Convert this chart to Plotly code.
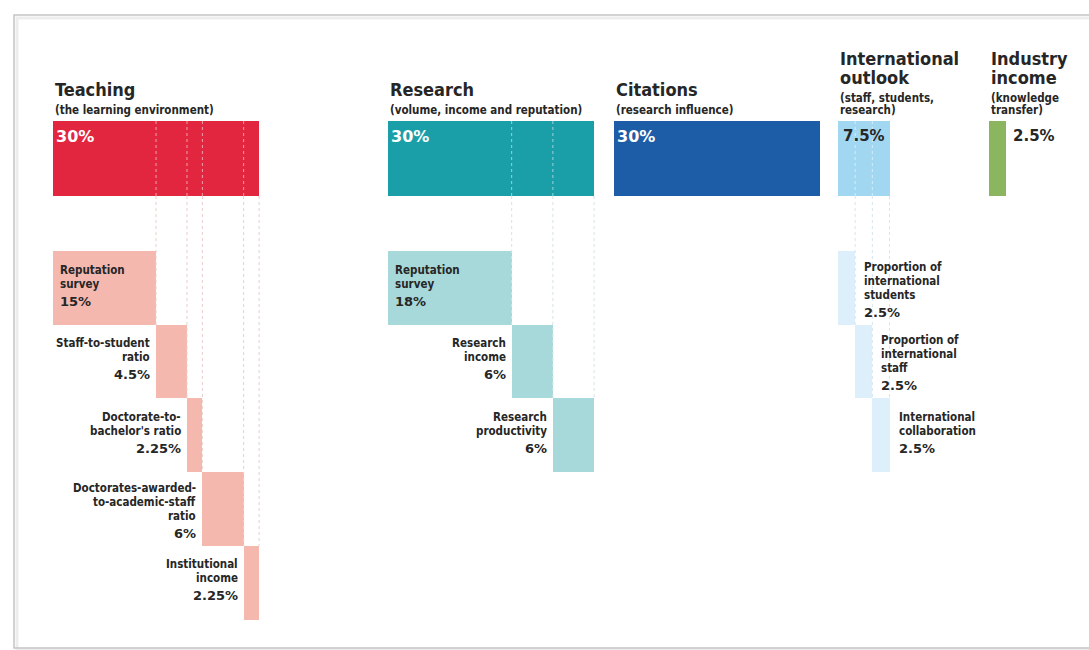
import plotly.graph_objects as go

# ---------------- data ----------------
pillars = ["Teaching", "Research", "Citations", "International<br>outlook", "Industry<br>income"]
pillar_subtitles = ["(the learning environment)", "(volume, income and reputation)",
                    "(research influence)", "(staff, students,<br>research)", "(knowledge<br>transfer)"]
pillar_weights = [30, 30, 30, 7.5, 2.5]

teaching_sub_names = ["Reputation<br>survey", "Staff-to-student<br>ratio", "Doctorate-to-<br>bachelor's ratio",
                      "Doctorates-awarded-<br>to-academic-staff<br>ratio", "Institutional<br>income"]
teaching_sub_weights = [15, 4.5, 2.25, 6, 2.25]

research_sub_names = ["Reputation<br>survey", "Research<br>income", "Research<br>productivity"]
research_sub_weights = [18, 6, 6]

intl_sub_names = ["Proportion of<br>international<br>students", "Proportion of<br>international<br>staff",
                  "International<br>collaboration"]
intl_sub_weights = [2.5, 2.5, 2.5]

# ---------------- style / layout ----------------
W, H = 1089, 650
K = 6.87                      # pixels per percentage point
GROUP_LEFT_PX = [53, 388, 614, 838, 989]
MAIN_COLORS = ["#E3263F", "#1A9FA8", "#1D5CA6", "#A2D7F2", "#8BB55E"]
SUB_COLORS = {0: "#F5B8AF", 1: "#A8D9DA", 3: "#DDEFFB"}
GUIDE_COLORS = {0: "#E8CFCB", 1: "#D2E4E4", 3: "#D5E6F1"}
TOP_Y0, TOP_H = 121, 75
SUB_Y0, SUB_H = 251, 73.7
TEXT = "#262626"
TITLE_FONT = "DejaVu Sans Condensed, Liberation Sans Narrow, sans-serif"
LABEL_FONT = "DejaVu Sans Condensed, Liberation Sans Narrow, sans-serif"
PCT_FONT = "DejaVu Sans, Liberation Sans, sans-serif"

def px2u(px):
    return px / K

def fmt(w):
    return f"{w:g}%"

fig = go.Figure()
annotations = []

# top pillar bars
for i, (p, w) in enumerate(zip(pillars, pillar_weights)):
    left = px2u(GROUP_LEFT_PX[i])
    fig.add_trace(go.Bar(
        orientation="h", x=[w], base=[left], y=[TOP_Y0 + TOP_H / 2], width=[TOP_H],
        marker=dict(color=MAIN_COLORS[i], line=dict(width=0)),
        hoverinfo="skip", showlegend=False))

subgroups = {0: (teaching_sub_names, teaching_sub_weights),
             1: (research_sub_names, research_sub_weights),
             3: (intl_sub_names, intl_sub_weights)}

for g, (names, weights) in subgroups.items():
    left = px2u(GROUP_LEFT_PX[g])
    cum = 0.0
    bases, tops = [], []
    for j, w in enumerate(weights):
        bases.append(left + cum)
        tops.append(SUB_Y0 + j * SUB_H)
        cum += w
    ys = [SUB_Y0 + (j + 0.5) * SUB_H for j in range(len(weights))]
    fig.add_trace(go.Bar(
        orientation="h", x=weights, base=bases, y=ys, width=[SUB_H] * len(weights),
        marker=dict(color=SUB_COLORS[g], line=dict(width=0)),
        hoverinfo="skip", showlegend=False))

    # dotted guide lines: white inside the top bar, tinted below it
    inner_x, inner_y, below_x, below_y = [], [], [], []
    n = len(weights)
    for b in range(1, n + 1):
        xb = left + sum(weights[:b])
        end = tops[b] if b < n else tops[n - 1]
        if b < n:
            inner_x += [xb, xb, None]
            inner_y += [TOP_Y0, TOP_Y0 + TOP_H, None]
        below_x += [xb, xb, None]
        below_y += [TOP_Y0 + TOP_H, end, None]
    fig.add_trace(go.Scatter(x=inner_x, y=inner_y, mode="lines",
                             line=dict(color="rgba(255,255,255,0.55)", width=1, dash="dot"),
                             hoverinfo="skip", showlegend=False))
    fig.add_trace(go.Scatter(x=below_x, y=below_y, mode="lines",
                             line=dict(color=GUIDE_COLORS[g], width=1, dash="dot"),
                             hoverinfo="skip", showlegend=False))

    # sub labels
    for j, (nm, w) in enumerate(zip(names, weights)):
        lines = nm.split("<br>")
        top = tops[j]
        first = top + (15.5 if len(lines) >= 3 else 18.5)
        if g == 3:
            xa, anchor = bases[j] + w + px2u(7), "left"
        elif j == 0:
            xa, anchor = bases[j] + px2u(5), "left"
        else:
            xa, anchor = bases[j] - px2u(4), "right"
        for k, ln in enumerate(lines):
            annotations.append(dict(x=xa, y=first + k * 14, xref="x", yref="y", text=f"<b>{ln}</b>",
                                    showarrow=False, xanchor=anchor, yanchor="middle",
                                    font=dict(family=LABEL_FONT, size=11.5, color=TEXT)))
        annotations.append(dict(x=xa, y=first + (len(lines) - 1) * 14 + 17.5, xref="x", yref="y",
                                text=f"<b>{fmt(w)}</b>", showarrow=False, xanchor=anchor, yanchor="middle",
                                font=dict(family=PCT_FONT, size=13, color=TEXT)))

# pillar titles, subtitles and weights
for i, (p, sub, w) in enumerate(zip(pillars, pillar_subtitles, pillar_weights)):
    left = px2u(GROUP_LEFT_PX[i])
    tlines = p.split("<br>")
    slines = sub.split("<br>")
    t_last = 89 if len(tlines) == 1 else 77
    for k, ln in enumerate(tlines):
        annotations.append(dict(x=left, y=t_last - (len(tlines) - 1 - k) * 19, xref="x", yref="y",
                                text=f"<b>{ln}</b>", showarrow=False, xanchor="left", yanchor="middle",
                                font=dict(family=TITLE_FONT, size=18, color=TEXT)))
    s_last = 110
    for k, ln in enumerate(slines):
        annotations.append(dict(x=left, y=s_last - (len(slines) - 1 - k) * 12.5, xref="x", yref="y",
                                text=f"<b>{ln}</b>", showarrow=False, xanchor="left", yanchor="middle",
                                font=dict(family=LABEL_FONT, size=11.5, color=TEXT)))
    if i < 3:
        annotations.append(dict(x=left + px2u(1), y=136, xref="x", yref="y", text=f"<b>{fmt(w)}</b>",
                                showarrow=False, xanchor="left", yanchor="middle",
                                font=dict(family=PCT_FONT, size=16, color="white")))
    elif i == 3:
        annotations.append(dict(x=left + w / 2, y=136, xref="x", yref="y", text=f"<b>{fmt(w)}</b>",
                                showarrow=False, xanchor="center", yanchor="middle",
                                font=dict(family=PCT_FONT, size=15, color=TEXT)))
    else:
        annotations.append(dict(x=left + w + px2u(5), y=136, xref="x", yref="y", text=f"<b>{fmt(w)}</b>",
                                showarrow=False, xanchor="left", yanchor="middle",
                                font=dict(family=PCT_FONT, size=15, color=TEXT)))

shapes = [
    dict(type="rect", xref="paper", yref="paper", x0=17 / W, x1=1.02, y0=1 - 650 / H, y1=1 - 18 / H,
         line=dict(color="#EDEDED", width=3), layer="below"),
    dict(type="rect", xref="paper", yref="paper", x0=14 / W, x1=1.02, y0=1 - 648 / H, y1=1 - 15 / H,
         line=dict(color="#C4C4C4", width=1.5), layer="below"),
]

fig.update_layout(
    width=W, height=H, margin=dict(l=0, r=0, t=0, b=0),
    paper_bgcolor="white", plot_bgcolor="white",
    barmode="overlay", bargap=0,
    xaxis=dict(range=[0, W / K], visible=False, fixedrange=True),
    yaxis=dict(range=[H, 0], visible=False, fixedrange=True),
    annotations=annotations, shapes=shapes,
)

fig.write_html("out.html", config={"displayModeBar": False},
               post_script="document.body.style.margin='0';document.body.style.overflow='hidden';")
